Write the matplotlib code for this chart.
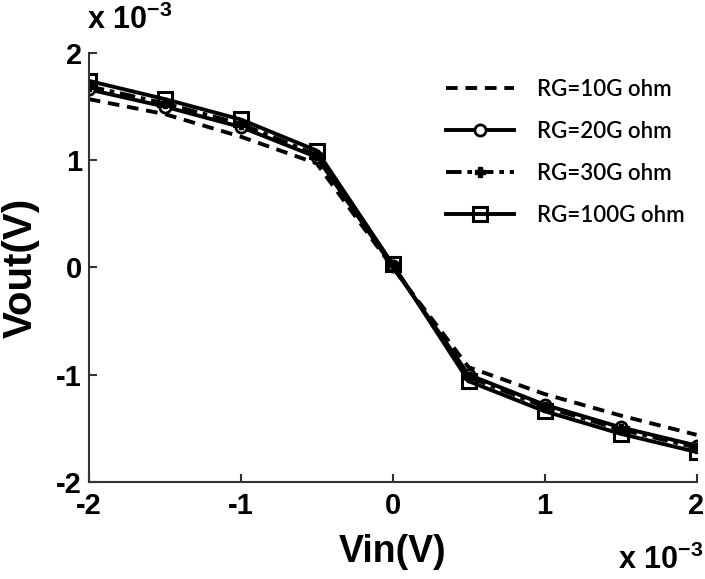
import matplotlib
matplotlib.use("Agg")
import matplotlib.pyplot as plt
from matplotlib.lines import Line2D

plt.rcParams['font.family'] = ['Liberation Sans', 'DejaVu Sans']
plt.rcParams['mathtext.fontset'] = 'custom'
plt.rcParams['mathtext.rm'] = 'Liberation Sans:bold'
plt.rcParams['mathtext.bf'] = 'Liberation Sans:bold'
plt.rcParams['mathtext.default'] = 'rm'

vin = [-2, -1.5, -1, -0.5, 0, 0.5, 1, 1.5, 2]  # x 1e-3
rg10 = [1.57, 1.43, 1.22, 0.97, 0.0, -0.93, -1.18, -1.38, -1.56]
rg20 = [1.66, 1.50, 1.31, 1.03, 0.01, -1.00, -1.28, -1.49, -1.66]
rg30 = [1.69, 1.53, 1.34, 1.05, 0.02, -1.02, -1.30, -1.51, -1.68]
rg100 = [1.74, 1.57, 1.38, 1.09, 0.03, -1.06, -1.34, -1.55, -1.72]
labels = ['RG=10G ohm', 'RG=20G ohm', 'RG=30G ohm', 'RG=100G ohm']
xticks = [-2, -1, 0, 1, 2]
yticks = [-2, -1, 0, 1, 2]

fig = plt.figure(figsize=(7.05, 5.79), dpi=100)
ax = fig.add_axes([0.126, 0.1675, 0.862, 0.741])

lw = 2.8
ax.plot(vin, rg10, color='black', linestyle=(0, (3, 2)), lw=lw)
ax.plot(vin, rg20, color='black', linestyle='-', lw=lw, marker='o', ms=8, mfc='white', mec='black', mew=2)
ax.plot(vin, rg30, color='black', linestyle=(0, (4, 1.5, 1.2, 1.5)), lw=lw, marker='P', ms=7, mfc='black', mec='black')
ax.plot(vin, rg100, color='black', linestyle='-', lw=lw, marker='s', ms=10, mfc='none', mec='black', mew=2.2)

ax.set_xlim(-2, 2)
ax.set_ylim(-2, 2)
ax.set_xticks(xticks)
ax.set_yticks(yticks)
ax.set_xticklabels([str(t) for t in xticks])
ax.set_yticklabels([str(t) for t in yticks])
for s in ['top', 'right']:
    ax.spines[s].set_visible(False)
for s in ['left', 'bottom']:
    ax.spines[s].set_linewidth(1.5)
    ax.spines[s].set_color('#333333')
ax.tick_params(direction='in', length=6, width=1.5, color='#333333', labelsize=21, pad=5)
for lab in ax.get_xticklabels() + ax.get_yticklabels():
    lab.set_fontweight('bold')
ax.tick_params(axis='x', pad=7)

ax.set_xlabel('Vin(V)', fontsize=27, fontweight='bold', labelpad=10)
ax.set_ylabel('Vout(V)', fontsize=29, fontweight='bold', labelpad=12)

fig.text(0.123, 0.937, r'x 10$^{-3}$', fontsize=22, fontweight='bold', ha='left', va='bottom')
fig.text(0.997, 0.006, r'x 10$^{-3}$', fontsize=22, fontweight='bold', ha='right', va='bottom')

handles = [
    Line2D([], [], color='black', linestyle=(0, (3, 2)), lw=lw),
    Line2D([], [], color='black', lw=lw, marker='o', ms=8, mfc='white', mec='black', mew=2),
    Line2D([], [], color='black', linestyle=(0, (4, 1.5, 1.2, 1.5)), lw=lw, marker='P', ms=7, mfc='black'),
    Line2D([], [], color='black', lw=lw, marker='s', ms=10, mfc='none', mec='black', mew=2.2),
]
leg = fig.legend(handles, labels, loc='upper left', bbox_to_anchor=(0.632, 0.864), frameon=False,
                 prop={'family': ['Lato', 'DejaVu Sans'], 'weight': 'semibold', 'size': 16}, handlelength=3.1,
                 labelspacing=0.95, handletextpad=1.0, borderpad=0, borderaxespad=0)

fig.savefig('out.png', dpi=100)
